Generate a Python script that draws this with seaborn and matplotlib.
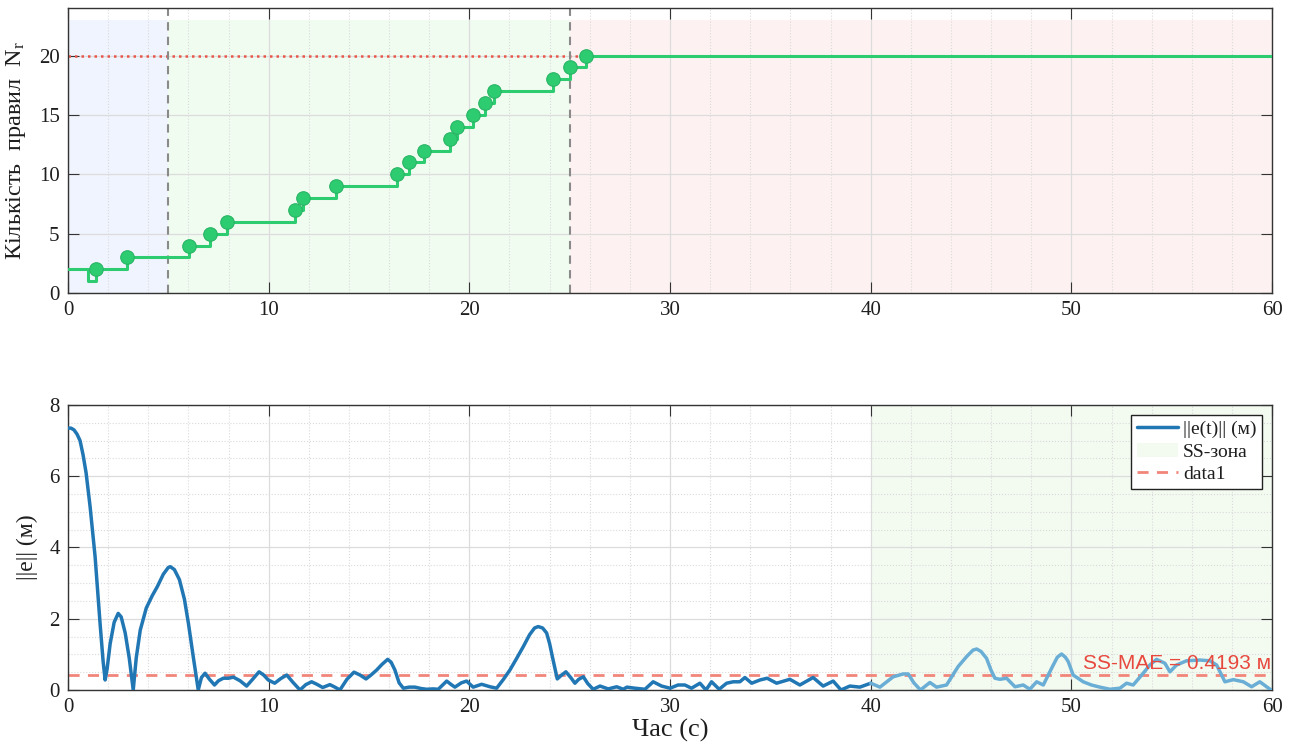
import numpy as np
import pandas as pd
import matplotlib
matplotlib.use("Agg")
import matplotlib.pyplot as plt
import seaborn as sns
from matplotlib.ticker import MultipleLocator
from matplotlib.patches import Patch
from matplotlib.lines import Line2D

# Rule-base size over time (value holds until the next change)
rule_time = [0.0, 1.0, 1.37, 2.92, 6.03, 7.07, 7.9, 11.3, 11.7, 13.34, 16.4, 17.0,
             17.75, 19.03, 19.37, 20.2, 20.8, 21.24, 24.15, 25.0, 25.8, 60.0]
rule_count = [2, 1, 2, 3, 4, 5, 6, 7, 8, 9, 10, 11,
              12, 13, 14, 15, 16, 17, 18, 19, 20, 20]
max_rules = 20
phase_bounds = [0, 5, 25, 60]

# Tracking error norm ||e(t)|| in metres
err_time = [0.0, 0.15, 0.3, 0.45, 0.6, 0.75, 0.9, 1.1, 1.35, 1.6, 1.75, 1.85, 1.95, 2.1,
            2.3, 2.5, 2.65, 2.85, 3.05, 3.25, 3.4, 3.6, 3.9, 4.2, 4.45, 4.75, 5.0, 5.1,
            5.3, 5.55, 5.8, 6.0, 6.25, 6.49, 6.65, 6.83, 7.05, 7.3, 7.5, 7.74, 8.0, 8.24,
            8.57, 8.9, 9.2, 9.52, 9.75, 9.98, 10.3, 10.6, 10.9, 11.2, 11.56, 11.85, 12.14,
            12.4, 12.69, 13.05, 13.3, 13.55, 13.9, 14.25, 14.55, 14.85, 15.1, 15.38, 15.65,
            15.93, 16.1, 16.29, 16.5, 16.71, 17.0, 17.29, 17.6, 17.87, 18.2, 18.45, 18.87,
            19.1, 19.28, 19.6, 19.86, 20.19, 20.61, 21.03, 21.36, 21.7, 22.02, 22.35, 22.69,
            23.0, 23.25, 23.43, 23.65, 23.85, 24.0, 24.15, 24.38, 24.6, 24.81, 25.05, 25.26,
            25.45, 25.68, 25.9, 26.17, 26.51, 26.92, 27.34, 27.67, 27.85, 28.25, 28.75,
            29.16, 29.58, 30.0, 30.4, 30.74, 31.07, 31.49, 31.79, 32.07, 32.45, 32.82,
            33.15, 33.48, 33.73, 34.07, 34.48, 34.84, 35.31, 35.97, 36.47, 37.13, 37.63,
            38.13, 38.52, 38.96, 39.46, 40.0, 40.46, 41.12, 41.62, 41.87, 42.15, 42.48,
            42.95, 43.28, 43.78, 44.36, 44.8, 45.1, 45.28, 45.5, 45.77, 46.0, 46.19, 46.44,
            46.77, 47.19, 47.6, 47.93, 48.27, 48.6, 49.06, 49.3, 49.51, 49.7, 49.84, 50.09,
            50.59, 51.0, 51.42, 51.92, 52.42, 52.75, 53.08, 53.58, 53.91, 54.24, 54.66,
            54.91, 55.24, 55.74, 56.4, 56.9, 57.24, 57.65, 58.07, 58.57, 58.98, 59.39,
            59.9, 60.0]
err_norm = [7.35, 7.35, 7.3, 7.18, 7.0, 6.6, 6.1, 5.15, 3.74, 1.85, 0.8, 0.28, 0.6, 1.3,
            1.9, 2.15, 2.05, 1.6, 0.9, 0.0, 0.9, 1.68, 2.3, 2.65, 2.9, 3.25, 3.44, 3.46,
            3.38, 3.1, 2.55, 1.87, 0.9, 0.0, 0.35, 0.47, 0.3, 0.14, 0.26, 0.33, 0.33, 0.36,
            0.26, 0.11, 0.3, 0.51, 0.42, 0.28, 0.19, 0.32, 0.42, 0.22, 0.0, 0.15, 0.23,
            0.16, 0.07, 0.15, 0.08, 0.0, 0.3, 0.5, 0.42, 0.31, 0.42, 0.56, 0.72,
            0.86, 0.78, 0.56, 0.2, 0.05, 0.08, 0.08, 0.04, 0.02, 0.03, 0.02, 0.25,
            0.15, 0.08, 0.2, 0.25, 0.08, 0.16, 0.09, 0.05, 0.3, 0.56, 0.88, 1.22,
            1.55, 1.74, 1.78, 1.74, 1.6, 1.3, 0.9, 0.31, 0.42, 0.51, 0.35, 0.19,
            0.3, 0.37, 0.18, 0.02, 0.11, 0.03, 0.09, 0.02, 0.08, 0.05, 0.02,
            0.23, 0.11, 0.05, 0.14, 0.14, 0.05, 0.19, 0.0, 0.23, 0.02, 0.19,
            0.23, 0.23, 0.35, 0.19, 0.28, 0.33, 0.19, 0.3, 0.14, 0.35, 0.11,
            0.25, 0.0, 0.11, 0.08, 0.19, 0.08, 0.37, 0.45, 0.45, 0.2, 0.0,
            0.21, 0.08, 0.14, 0.66, 0.95, 1.12, 1.15, 1.08, 0.89, 0.55, 0.33, 0.3,
            0.33, 0.09, 0.14, 0.02, 0.23, 0.14, 0.66, 0.92, 1.01, 0.92, 0.8, 0.42,
            0.23, 0.14, 0.08, 0.02, 0.05, 0.19, 0.14, 0.47, 0.7, 0.86, 0.75,
            0.51, 0.7, 0.82, 0.84, 0.82, 0.7, 0.23, 0.29, 0.23, 0.09, 0.23,
            0.02, 0.0]
ss_start = 40
ss_mae = 0.4193

sns.set_theme(style="whitegrid")
plt.rcParams['font.family'] = ['Liberation Serif', 'DejaVu Serif']
plt.rcParams['mathtext.fontset'] = 'custom'
plt.rcParams['mathtext.rm'] = 'Liberation Serif'
plt.rcParams['mathtext.it'] = 'Liberation Serif:italic'

GREEN = '#2ecc71'
BLUE = '#2077b4'
LIGHT_BLUE = '#6aaed6'
SALMON = '#f2857a'
TXT = '#1e1e1e'

fig = plt.figure(figsize=(12.93, 7.49), dpi=100)
ax1 = fig.add_axes([0.0526, 0.6088, 0.9312, 0.3805])
ax2 = fig.add_axes([0.0526, 0.0788, 0.9312, 0.3805])


def style_axes(ax, yminor=None):
    ax.set_facecolor('white')
    ax.set_axisbelow(True)
    ax.xaxis.set_minor_locator(MultipleLocator(2))
    if yminor:
        ax.yaxis.set_minor_locator(MultipleLocator(yminor))
    ax.grid(which='major', color='#dcdcdc', lw=0.9, ls='-')
    ax.grid(which='minor', axis='x', color='#dadada', lw=0.8, ls=':')
    if yminor:
        ax.grid(which='minor', axis='y', color='#dadada', lw=0.8, ls=':')
    ax.tick_params(which='major', direction='in', length=8, width=0.8,
                   color='#333333', top=True, right=True, bottom=True, left=True,
                   labelsize=15, labelcolor=TXT, pad=6)
    ax.tick_params(which='minor', length=0)
    for s in ax.spines.values():
        s.set_color('#333333')
        s.set_linewidth(1.0)


# ---- Top panel: number of rules ----
style_axes(ax1)
phase_colors = ['#f0f4fe', '#f1fcf1', '#fdf2f1']
top_shade = 23 / 24
for (a, b), c in zip(zip(phase_bounds[:-1], phase_bounds[1:]), phase_colors):
    ax1.axvspan(a, b, ymin=0, ymax=top_shade, color=c, lw=0, zorder=0)

ax1.axhline(max_rules, color='#e8564a', ls=(0, (1, 1.6)), lw=1.8, zorder=2)
for xb in phase_bounds[1:-1]:
    ax1.axvline(xb, color='#8a8a8a', ls=(0, (4, 3)), lw=1.5, zorder=2)

rules_df = pd.DataFrame({'t': rule_time, 'n': rule_count})
sns.lineplot(data=rules_df, x='t', y='n', ax=ax1, drawstyle='steps-post',
             color=GREEN, lw=2.2, sort=False, estimator=None, zorder=3)
added = rules_df[np.r_[False, np.diff(rules_df['n'].values) > 0]]
sns.scatterplot(data=added, x='t', y='n', ax=ax1, color=GREEN, s=95,
                edgecolor='#27b463', linewidth=0.8, zorder=4)

ax1.set_xlim(0, 60)
ax1.set_ylim(0, 24)
ax1.set_xticks(range(0, 61, 10))
ax1.set_yticks([0, 5, 10, 15, 20])
ax1.set_xlabel('')
ax1.set_ylabel(r'Кількість  правил  $\mathregular{N_r}$', fontsize=17.5, color=TXT, labelpad=8)

# ---- Bottom panel: tracking error ----
style_axes(ax2, yminor=0.5)
ax2.axvspan(ss_start, 60, color='#f3fbf1', lw=0, zorder=0)

err_df = pd.DataFrame({'t': err_time, 'e': err_norm})
transient = err_df[err_df['t'] <= ss_start]
steady = err_df[err_df['t'] >= ss_start]
sns.lineplot(data=transient, x='t', y='e', ax=ax2, color=BLUE, lw=2.5,
             sort=False, estimator=None, zorder=3, solid_joinstyle='round')
sns.lineplot(data=steady, x='t', y='e', ax=ax2, color=LIGHT_BLUE, lw=2.5,
             sort=False, estimator=None, zorder=3, solid_joinstyle='round')
ax2.axhline(ss_mae, color=SALMON, ls=(0, (4, 3)), lw=2.0, zorder=2)
ax2.text(59.95, ss_mae + 0.07, f'SS-MAE = {ss_mae:.4f} м', color='#e8493f',
         fontsize=15, family=['Liberation Sans', 'DejaVu Sans'],
         ha='right', va='bottom', zorder=5)

ax2.set_xlim(0, 60)
ax2.set_ylim(0, 8)
ax2.set_xticks(range(0, 61, 10))
ax2.set_yticks([0, 2, 4, 6, 8])
ax2.set_xlabel('Час (с)', fontsize=19, color=TXT, labelpad=1)
ax2.set_ylabel('||e|| (м)', fontsize=17, color=TXT, labelpad=8)

handles = [Line2D([], [], color=BLUE, lw=2.5),
           Patch(facecolor='#f3fbf1', edgecolor='none'),
           Line2D([], [], color=SALMON, lw=2.0, ls=(0, (4, 3)))]
leg = ax2.legend(handles, ['||e(t)|| (м)', 'SS-зона', 'data1'], loc='upper right',
                 fontsize=14, frameon=True, fancybox=False, framealpha=1,
                 edgecolor='#222222', handlelength=2.1, handletextpad=0.25,
                 borderpad=0.3, labelspacing=0.25, borderaxespad=0.5)
leg.get_frame().set_linewidth(1.0)
for t in leg.get_texts():
    t.set_color(TXT)

fig.savefig('out.png', dpi=100)
